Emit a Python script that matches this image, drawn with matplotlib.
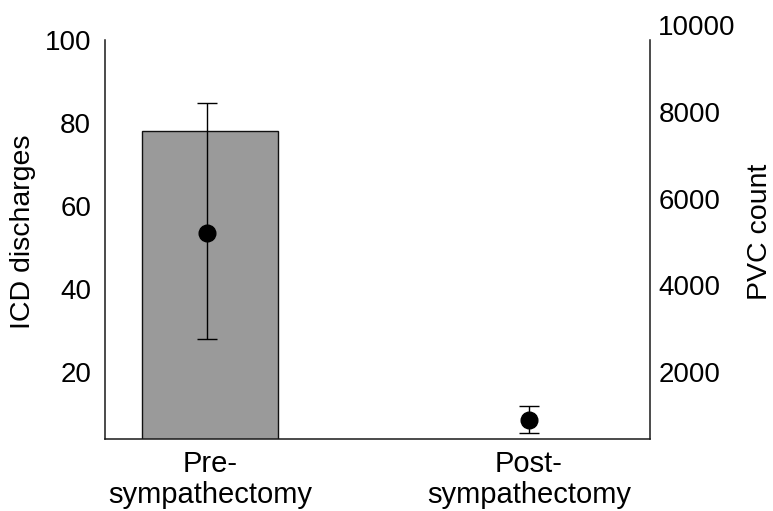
import matplotlib
matplotlib.use("Agg")
import matplotlib.pyplot as plt

plt.rcParams.update({
    "font.family": ["Liberation Sans", "DejaVu Sans"],
    "font.size": 20,
})

# data
groups = ["Pre-\nsympathectomy", "Post-\nsympathectomy"]
icd_discharges = [78, None]          # bars, left axis
pvc_mean = [5200, 900]               # dots, right axis
pvc_err_low = [2760, 590]
pvc_err_high = [8200, 1220]
left_ticks = [20, 40, 60, 80, 100]
right_ticks = [2000, 4000, 6000, 8000, 10000]

fig = plt.figure(figsize=(7.73, 5.11), dpi=100)
ax = fig.add_axes([0.1358, 0.1409, 0.7051, 0.8102])
ax2 = ax.twinx()

x = list(range(len(groups)))

# bar (left axis)
bx = [i for i, v in zip(x, icd_discharges) if v is not None]
bv = [v for v in icd_discharges if v is not None]
ax.bar(bx, bv, width=0.426, color="#9a9a9a", edgecolor="#111111", linewidth=1.0, zorder=2)

# points with error bars (right axis)
yerr = [[m - lo for m, lo in zip(pvc_mean, pvc_err_low)],
        [hi - m for m, hi in zip(pvc_mean, pvc_err_high)]]
ax2.errorbar([i - 0.01 if i == 0 else i for i in x], pvc_mean, yerr=yerr, fmt="o",
             color="black", ms=12, elinewidth=1.0, capsize=7.5, capthick=1.0, zorder=3)

ax.set_xlim(-0.33, 1.38)
ax.set_ylim(4, 103.6)
ax2.set_ylim(456, 10010)

ax.set_yticks(left_ticks)
ax2.set_yticks(right_ticks)
ax.set_xticks(x)
ax.set_xticklabels(groups, linespacing=1.12, fontsize=21)

ax.tick_params(axis="both", length=0, labelsize=20)
ax.tick_params(axis="x", labelsize=21)
ax.tick_params(axis="y", pad=10)
ax.tick_params(axis="x", pad=8)
ax2.tick_params(axis="y", length=0, labelsize=20, pad=6)

for a in (ax, ax2):
    a.spines["top"].set_visible(False)
    for s in a.spines.values():
        s.set_linewidth(1.1)
        s.set_color("#1a1a1a")
ax.spines["right"].set_visible(False)
ax2.spines["left"].set_visible(False)
ax2.spines["bottom"].set_visible(False)
ax.spines["left"].set_bounds(4, 100)
ax2.spines["right"].set_bounds(456, 9654)

ax.set_ylabel("ICD discharges", fontsize=20.5, labelpad=6)
ax2.set_ylabel("PVC count", fontsize=20.5, labelpad=8)
ax.patch.set_visible(False)

fig.savefig("out.png", dpi=100)
